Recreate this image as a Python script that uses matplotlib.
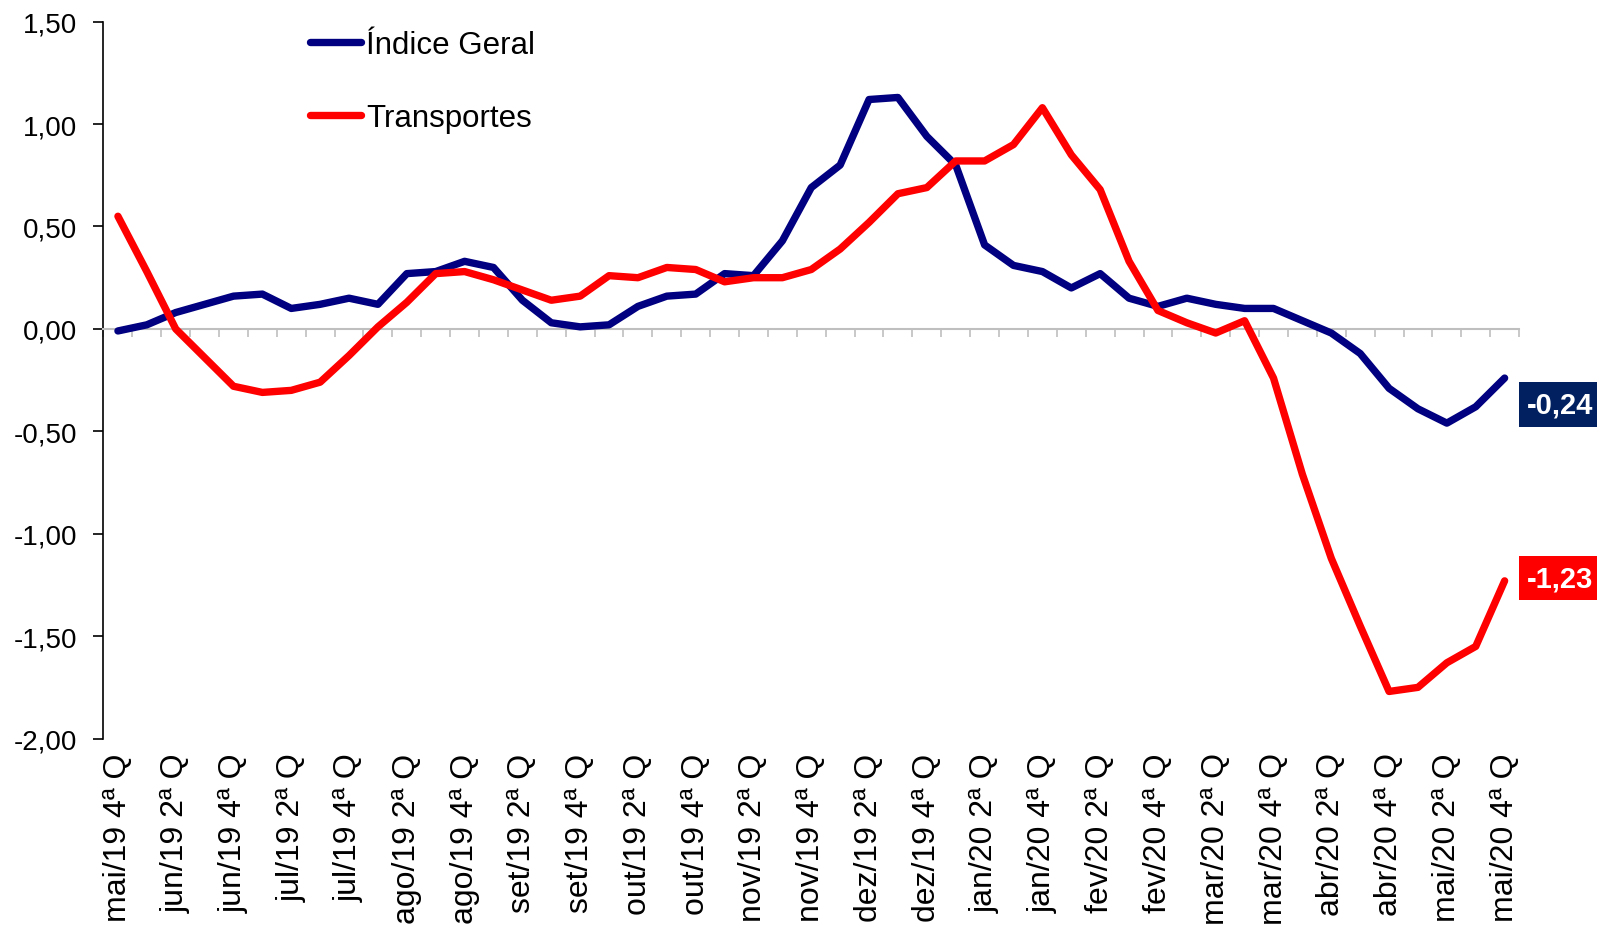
import numpy as np
import matplotlib
matplotlib.use("Agg")
import matplotlib.pyplot as plt

plt.rcParams['font.family'] = ['Liberation Sans', 'DejaVu Sans']

# periodos (quadrissemanas) de mai/19 4a Q ate mai/20 4a Q
months = ['mai/19', 'jun/19', 'jul/19', 'ago/19', 'set/19', 'out/19', 'nov/19',
          'dez/19', 'jan/20', 'fev/20', 'mar/20', 'abr/20', 'mai/20']
periods = ['mai/19 4ª Q'] + [m + ' %dª Q' % q for m in months[1:] for q in range(1, 5)]

indice_geral = [-0.01, 0.02, 0.08, 0.12, 0.16, 0.17, 0.10, 0.12, 0.15, 0.12,
                0.27, 0.28, 0.33, 0.30, 0.14, 0.03, 0.01, 0.02, 0.11, 0.16,
                0.17, 0.27, 0.26, 0.43, 0.69, 0.80, 1.12, 1.13, 0.94, 0.80,
                0.41, 0.31, 0.28, 0.20, 0.27, 0.15, 0.11, 0.15, 0.12, 0.10,
                0.10, 0.04, -0.02, -0.12, -0.29, -0.39, -0.46, -0.38, -0.24]

transportes = [0.55, 0.28, 0.00, -0.14, -0.28, -0.31, -0.30, -0.26, -0.13, 0.01,
               0.13, 0.27, 0.28, 0.24, 0.19, 0.14, 0.16, 0.26, 0.25, 0.30,
               0.29, 0.23, 0.25, 0.25, 0.29, 0.39, 0.52, 0.66, 0.69, 0.82,
               0.82, 0.90, 1.08, 0.85, 0.68, 0.33, 0.09, 0.03, -0.02, 0.04,
               -0.24, -0.71, -1.12, -1.45, -1.77, -1.75, -1.63, -1.55, -1.23]

yticks = [-2.0, -1.5, -1.0, -0.5, 0.0, 0.5, 1.0, 1.5]

blue = '#000080'
red = '#FF0000'
gray = '#BFBFBF'

x = np.arange(len(periods))

fig = plt.figure(figsize=(15.97, 9.29), dpi=100)
ax = fig.add_axes([0.0648, 0.2039, 0.8864, 0.7717])

ax.plot(x, indice_geral, color=blue, lw=5.3, solid_capstyle='round',
        solid_joinstyle='round', label='Índice Geral', zorder=3)
ax.plot(x, transportes, color=red, lw=5.3, solid_capstyle='round',
        solid_joinstyle='round', label='Transportes', zorder=4)

ax.set_xlim(-0.5, len(periods) - 0.5)
ax.set_ylim(-2.0, 1.5)

# eixo y
ax.set_yticks(yticks)
ax.set_yticklabels([('%.2f' % v).replace('.', ',') for v in yticks])
ax.tick_params(axis='y', direction='out', length=7, width=1.2, pad=12,
               labelsize=20, colors='black')
ax.spines['left'].set_linewidth(1.2)
ax.spines['top'].set_visible(False)
ax.spines['right'].set_visible(False)

# linha do zero com marcas entre categorias
ax.spines['bottom'].set_position(('data', 0))
ax.spines['bottom'].set_color(gray)
ax.spines['bottom'].set_linewidth(1.5)
ax.set_xticks(np.arange(len(periods) + 1) - 0.5)
ax.tick_params(axis='x', direction='out', length=5.5, width=1.2, color=gray,
               labelbottom=False)

# rotulos no fundo
sec = ax.secondary_xaxis('bottom')
sec.set_xticks(x[::2])
sec.set_xticklabels(periods[::2], rotation=90, fontsize=23)
sec.tick_params(length=0, pad=10)
sec.spines['bottom'].set_visible(False)

leg = ax.legend(loc='upper left', bbox_to_anchor=(0.146, 0.989), frameon=False,
                fontsize=22.5, handlelength=1.63, handletextpad=0.15,
                labelspacing=1.39, borderpad=0, borderaxespad=0)

# valores finais
ax.annotate(('%.2f' % indice_geral[-1]).replace('.', ','),
            xy=(x[-1], indice_geral[-1]), xytext=(16, -19),
            textcoords='offset points', ha='left', va='center', color='white',
            fontsize=21, fontweight='bold', annotation_clip=False,
            bbox=dict(boxstyle='square,pad=0.28', fc='#002060', ec='none'))
ax.annotate(('%.2f' % transportes[-1]).replace('.', ','),
            xy=(x[-1], transportes[-1]), xytext=(16, 2),
            textcoords='offset points', ha='left', va='center', color='white',
            fontsize=21, fontweight='bold', annotation_clip=False,
            bbox=dict(boxstyle='square,pad=0.28', fc=red, ec='none'))

fig.savefig('out.png', dpi=100)
